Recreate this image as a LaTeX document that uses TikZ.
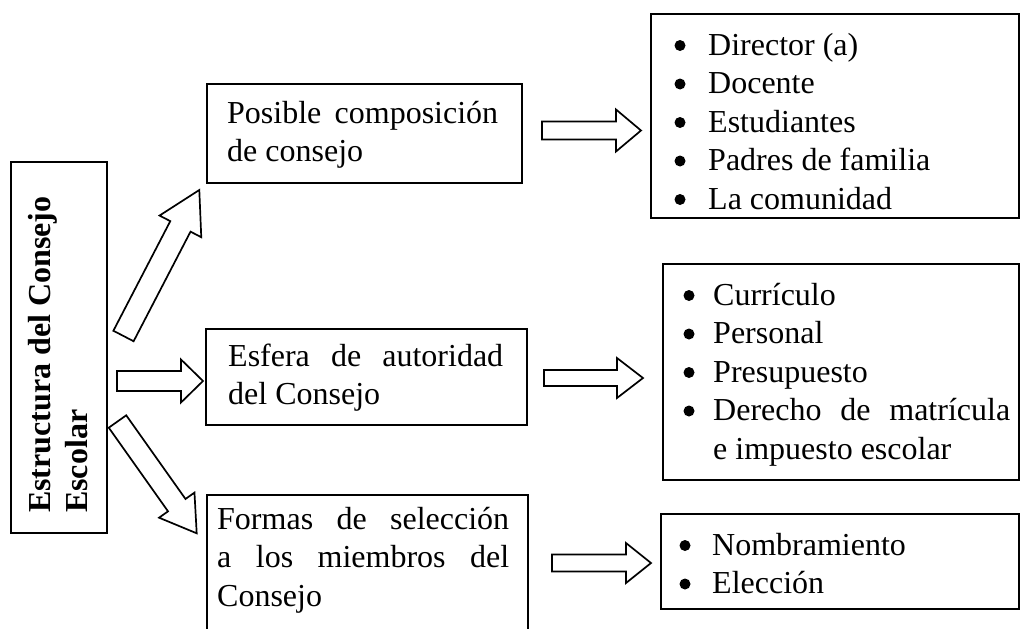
\documentclass[tikz,border=0pt]{standalone}
\usepackage{fontspec}
\setmainfont{Liberation Serif}
\usetikzlibrary{calc}
% block arrow: tail, tip, shaft half width, head half width, head length, name
\newcommand\blockarrow[6]{%
  \coordinate (#6h) at ($(#2)!#5!(#1)$);
  \draw[blockarr] ($(#1)!#3!90:(#2)$) -- ($(#6h)!#3!90:(#2)$) -- ($(#6h)!#4!90:(#2)$)
    -- (#2) -- ($(#6h)!#4!-90:(#2)$) -- ($(#6h)!#3!-90:(#2)$) -- ($(#1)!#3!-90:(#2)$) -- cycle;
}
\tikzset{
  box/.style={draw, line width=1.7pt, inner sep=0pt, anchor=north west},
  txt/.style={inner sep=0pt, align=left, anchor=north west},
  rot/.style={inner sep=0pt, rotate=90, anchor=base west, font=\fontsize{32pt}{38.5pt}\selectfont\bfseries},
  blockarr/.style={draw, line width=1.7pt, fill=white, line join=miter},
  bulletdot/.style={fill=black},
}
\newcommand\fl{\rule{0pt}{26pt}}
\begin{document}
\begin{tikzpicture}[x=1pt, y=-1pt, font=\fontsize{32pt}{38.5pt}\selectfont]
\useasboundingbox (0,0) rectangle (1020,629);
\clip (0,0) rectangle (1020,629);
\fill[white] (0,0) rectangle (1020,629);

% boxes
\node[box, minimum width=96pt, minimum height=371pt] (main) at (10,161) {};
\node[box, minimum width=315pt, minimum height=99pt] (b1) at (206,83) {};
\node[box, minimum width=321pt, minimum height=96pt] (b2) at (205,328) {};
\node[box, minimum width=321pt, minimum height=206pt] (b3) at (206,494) {};
\node[box, minimum width=368pt, minimum height=204pt] (r1) at (650,13) {};
\node[box, minimum width=356pt, minimum height=216pt] (r2) at (662,263) {};
\node[box, minimum width=358pt, minimum height=95pt] (r3) at (660,513) {};

% rotated title
\node[rot] (t1) at (50,513) {Estructura del Consejo};
\node[rot] (t2) at (87,513) {Escolar};

% middle texts
\node[txt] (b1t) at (227,97) {\fl\makebox[271pt][s]{Posible composición}\\de consejo};
\node[txt] (b2t) at (228,340) {\fl\makebox[275pt][s]{Esfera de autoridad}\\del Consejo};
\node[txt] (b3t) at (217,503) {\fl\makebox[292pt][s]{Formas de selección}\\\makebox[292pt][s]{a los miembros del}\\Consejo};

% right lists
\node[txt] (r1t) at (708,29) {\fl Director (a)\\Docente\\Estudiantes\\Padres de familia\\La comunidad};
\node[txt] (r2t) at (713,279) {\fl Currículo\\Personal\\Presupuesto\\\makebox[297pt][s]{Derecho de matrícula}\\e impuesto escolar};
\node[txt] (r3t) at (712,529) {\fl Nombramiento\\Elección};

% bullets
\foreach \yy in {0,1,2,3,4} \fill[bulletdot] (680,{55+38.5*\yy-9.5}) circle (5.5pt);
\foreach \yy in {0,1,2,3} \fill[bulletdot] (689,{305+38.5*\yy-9.5}) circle (5.5pt);
\foreach \yy in {0,1} \fill[bulletdot] (685,{555+38.5*\yy-9.5}) circle (5.5pt);

% arrow end points
\coordinate (l1a) at (123.5,336);   \coordinate (l1b) at (199.3,190);
\coordinate (l2a) at (117,381);     \coordinate (l2b) at (203,381);
\coordinate (l3a) at (117.5,421.5); \coordinate (l3b) at (196.7,533.3);
\coordinate (a1a) at (542,130.5);   \coordinate (a1b) at (641,130.5);
\coordinate (a2a) at (544,378);     \coordinate (a2b) at (643,378);
\coordinate (a3a) at (552,563);     \coordinate (a3b) at (651,563);

\blockarrow{l1a}{l1b}{11.4pt}{23.5pt}{41pt}{l1}
\blockarrow{l2a}{l2b}{10pt}{21.5pt}{22pt}{l2}
\blockarrow{l3a}{l3b}{10.7pt}{21.7pt}{34.5pt}{l3}
\blockarrow{a1a}{a1b}{9pt}{21pt}{25pt}{a1}
\blockarrow{a2a}{a2b}{8pt}{20pt}{26pt}{a2}
\blockarrow{a3a}{a3b}{8.5pt}{20pt}{25pt}{a3}
\end{tikzpicture}
\end{document}
